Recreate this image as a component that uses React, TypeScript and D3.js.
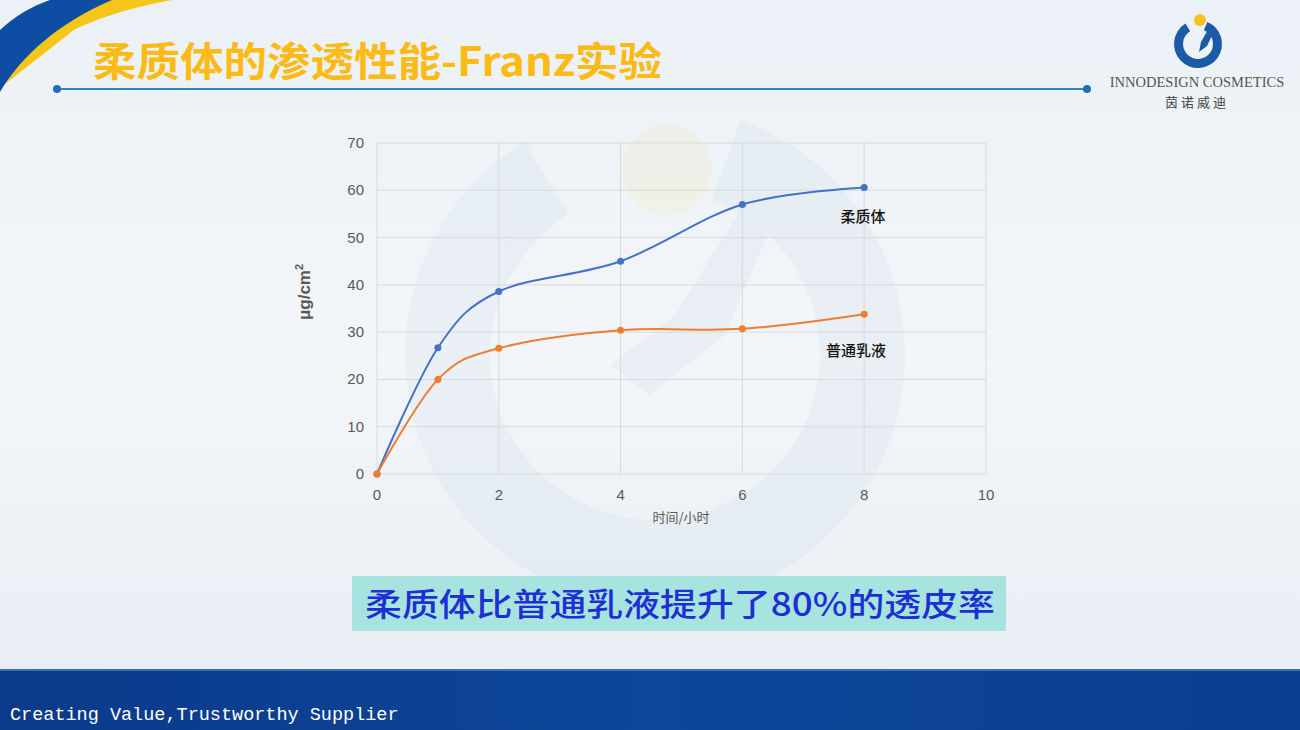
import React from 'react';
import * as d3 from 'd3';

const W = 1300;
const H = 730;

// data
const hours = [0, 1, 2, 4, 6, 8];
const transfersome = [0, 26.7, 38.6, 45.0, 57.0, 60.6];
const emulsion = [0, 20.0, 26.6, 30.4, 30.7, 33.8];
const xTicks = [0, 2, 4, 6, 8, 10];
const yTicks = [0, 10, 20, 30, 40, 50, 60, 70];

const seriesNames = ['柔质体', '普通乳液'];
const seriesColors = ['#4472C4', '#ED7D31'];

const margin = { left: 377, right: W - 986, top: 143, bottom: H - 474 };

export default function App() {
  const x = d3.scaleLinear().domain([0, 10]).range([margin.left, W - margin.right]);
  const y = d3.scaleLinear().domain([0, 70]).range([H - margin.bottom, margin.top]);

  const line = d3.line<number>()
    .x((_, i) => x(hours[i]))
    .y(d => y(d))
    .curve(d3.curveCardinal.tension(0));

  const series = [transfersome, emulsion];

  // faint watermark ring
  const ring = d3.arc()({
    innerRadius: 165,
    outerRadius: 250,
    startAngle: 0.35,
    endAngle: Math.PI * 2 - 0.55,
  } as any) as string;

  const logoRing = d3.arc()({
    innerRadius: 15,
    outerRadius: 24,
    startAngle: 0.4,
    endAngle: Math.PI * 2 - 0.55,
  } as any) as string;

  return (
    <svg width={W} height={H} style={{ position: 'absolute', left: 0, top: 0 }}>
      <defs>
        <linearGradient id="bg" x1="0" y1="0" x2="0" y2="1">
          <stop offset="0" stopColor="#EBF1F6" />
          <stop offset="0.5" stopColor="#F3F6F9" />
          <stop offset="1" stopColor="#E6EDF3" />
        </linearGradient>
        <linearGradient id="foot" x1="0" y1="0" x2="1" y2="0">
          <stop offset="0" stopColor="#0B3A8A" />
          <stop offset="0.5" stopColor="#0C4699" />
          <stop offset="1" stopColor="#0B3F8F" />
        </linearGradient>
      </defs>
      <rect width={W} height={H} fill="url(#bg)" />

      {/* watermark */}
      <g transform="translate(655,355)" opacity={0.035}>
        <path d={ring} fill="#1A5AA8" />
        <path d="M20,-40 L95,-160 L125,-150 L70,-20 L-5,40 L-45,10 Z" fill="#1A5AA8" />
      </g>
      <circle cx={667} cy={170} r={45} fill="#F4D46A" opacity={0.1} />

      {/* top-left swoosh */}
      <path d="M0,88 C25,50 60,18 110,0 L172,0 C115,10 60,30 28,60 C45,40 75,18 112,0 Z" fill="#F5C518" />
      <path d="M0,30 C15,16 32,6 50,0 L112,0 C60,22 22,55 0,92 Z" fill="#0E4DA4" />

      {/* title */}
      <text x={93} y={76} fontFamily="'Noto Sans CJK SC', sans-serif" fontWeight={700}
        fontSize={40} fill="#FBBA16" textLength={569} lengthAdjust="spacingAndGlyphs">
        柔质体的渗透性能-Franz实验
      </text>
      <line x1={57} x2={1087} y1={89} y2={89} stroke="#2E86C8" strokeWidth={2} />
      <circle cx={57} cy={89} r={4} fill="#1F6FB8" />
      <circle cx={1087} cy={89} r={4} fill="#1F6FB8" />

      {/* logo */}
      <g transform="translate(1198,44)">
        <path d={logoRing} fill="#1A5AA8" />
        <path d="M3,-2 L12,-18 L17,-15 L9,2 L1,8 Z" fill="#1A5AA8" />
        <circle cx={2} cy={-24} r={6} fill="#F7C21C" />
      </g>
      <text x={1197} y={87} textAnchor="middle" fontFamily="'Liberation Serif', serif"
        fontSize={14.5} fill="#555">INNODESIGN COSMETICS</text>
      <text x={1197} y={107} textAnchor="middle" fontFamily="'Noto Sans CJK SC', sans-serif"
        fontSize={13} fill="#444" letterSpacing={3}>茵诺威迪</text>

      {/* grid */}
      <g stroke="#D9D9D9" strokeWidth={1}>
        {yTicks.map(t => (
          <line key={'h' + t} x1={x(0)} x2={x(10)} y1={y(t)} y2={y(t)} />
        ))}
        {xTicks.map(t => (
          <line key={'v' + t} x1={x(t)} x2={x(t)} y1={y(0)} y2={y(70)} />
        ))}
      </g>

      {/* tick labels */}
      <g fontFamily="'Liberation Sans', Arial, sans-serif" fontSize={15} fill="#595959">
        {yTicks.map(t => (
          <text key={'yl' + t} x={364} y={y(t) + 5} textAnchor="end">{t}</text>
        ))}
        {xTicks.map(t => (
          <text key={'xl' + t} x={x(t)} y={500} textAnchor="middle">{t}</text>
        ))}
      </g>

      <text transform="translate(310,292) rotate(-90)" textAnchor="middle"
        fontFamily="'Liberation Sans', Arial, sans-serif" fontWeight={700} fontSize={17} fill="#595959">
        μg/cm<tspan dy={-7} fontSize={11}>2</tspan>
      </text>
      <text x={681} y={522} textAnchor="middle" fontFamily="'Noto Sans CJK SC', sans-serif"
        fontSize={13} fill="#595959">时间/小时</text>

      {/* series */}
      {series.map((s, i) => (
        <g key={seriesNames[i]}>
          <path d={line(s) as string} fill="none" stroke={seriesColors[i]} strokeWidth={2} />
          {s.map((v, j) => (
            <circle key={j} cx={x(hours[j])} cy={y(v)} r={3.5} fill={seriesColors[i]} />
          ))}
        </g>
      ))}

      <text x={863} y={222} textAnchor="middle" fontFamily="'Noto Sans CJK SC', sans-serif"
        fontWeight={500} fontSize={15} fill="#111">{seriesNames[0]}</text>
      <text x={856} y={356} textAnchor="middle" fontFamily="'Noto Sans CJK SC', sans-serif"
        fontWeight={500} fontSize={15} fill="#111">{seriesNames[1]}</text>

      {/* callout */}
      <rect x={352} y={576} width={654} height={55} fill="#A8E4DF" />
      <text x={365} y={616} fontFamily="'Noto Sans CJK SC', sans-serif" fontWeight={500}
        fontSize={32} fill="#1E30D4" textLength={630} lengthAdjust="spacingAndGlyphs">
        柔质体比普通乳液提升了80%的透皮率
      </text>

      {/* footer */}
      <rect x={0} y={670} width={W} height={60} fill="url(#foot)" />
      <rect x={0} y={669} width={W} height={2} fill="#3A6DB5" />
      <text x={10} y={720} fontFamily="'Liberation Mono', 'DejaVu Sans Mono', monospace"
        fontSize={18.5} fill="#FFFFFF">Creating Value,Trustworthy Supplier</text>
    </svg>
  );
}
